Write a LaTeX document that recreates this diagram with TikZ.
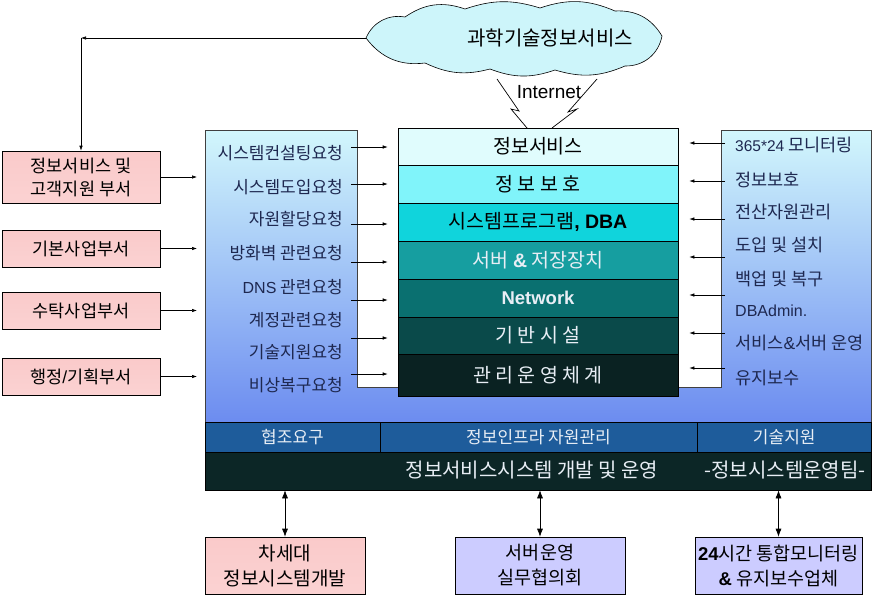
\documentclass[tikz,border=0pt]{standalone}
\usepackage{fontspec}
\setmainfont{Noto Sans CJK KR}
\newfontfamily\lat{Liberation Sans}
\usetikzlibrary{arrows.meta}
\definecolor{cloudfill}{RGB}{205,245,250}
\definecolor{pinkbox}{RGB}{250,202,202}
\definecolor{lavbox}{RGB}{204,204,255}
\definecolor{panTop}{RGB}{210,247,252}
\definecolor{panBot}{RGB}{108,140,240}
\definecolor{Lone}{RGB}{224,252,253}
\definecolor{Ltwo}{RGB}{128,244,250}
\definecolor{Lthree}{RGB}{16,212,220}
\definecolor{Lfour}{RGB}{22,158,160}
\definecolor{Lfive}{RGB}{10,112,112}
\definecolor{Lsix}{RGB}{10,74,74}
\definecolor{Lseven}{RGB}{10,34,34}
\definecolor{bandA}{RGB}{30,92,155}
\definecolor{bandB}{RGB}{12,38,38}
\definecolor{labtxt}{RGB}{30,40,80}
\definecolor{lighttxt}{RGB}{232,238,245}
\tikzset{
  arr/.style={-{Latex[length=5pt,width=3.5pt]}, line width=0.6pt},
  dbl/.style={{Latex[length=8pt,width=6pt]}-{Latex[length=8pt,width=6pt]}, line width=0.6pt},
  layer/.style={draw=black, line width=0.6pt, minimum width=280pt, inner sep=0pt, font=\fontsize{19.5}{22}\selectfont},
  leftlab/.style={anchor=east, text=labtxt, inner sep=0pt, font=\fontsize{17}{20}\selectfont},
  rightlab/.style={anchor=west, text=labtxt, inner sep=0pt, font=\fontsize{17.5}{20}\selectfont},
  pinkb/.style={draw=black, line width=0.6pt, top color=pinkbox, bottom color=pinkbox!85!white, inner sep=0pt, align=center, font=\fontsize{17.5}{23}\selectfont},
  lavb/.style={draw=black, line width=0.6pt, fill=lavbox, inner sep=0pt, align=center, font=\fontsize{18.5}{25}\selectfont},
  bandcell/.style={draw=black, line width=0.6pt, fill=bandA, text=lighttxt, inner sep=0pt, font=\fontsize{17}{19}\selectfont},
}
\begin{document}
\begin{tikzpicture}[x=1pt,y=-1pt]
\useasboundingbox (0,0) rectangle (872,595);
\fill[white] (0,0) rectangle (872,595);

% cloud
\coordinate (cloudw) at (366,38);
\draw[line width=0.6pt, fill=cloudfill]
  (cloudw) to[bend left=38] (405,17) to[bend left=27] (465,9) to[bend left=18] (540,8)
  to[bend left=21] (615,11) to[bend left=31] (662,36) to[bend left=40] (625,66)
  to[bend left=20] (555,70) to[bend left=20] (490,69) to[bend left=20] (425,63)
  to[bend left=30] (cloudw) -- cycle;
\node[font=\fontsize{20}{22}\selectfont, inner sep=0pt] (cloud) at (550,38) {과학기술정보서비스};

% panel
\coordinate (pan) at (205,130);
\shade[top color=panTop, bottom color=panBot, draw=black!75, line width=0.6pt]
  (205,130) -- (357,130) -- (357,387) -- (721,387) -- (721,130) -- (871.5,130) -- (871.5,422) -- (205,422) -- cycle;

% stack
\node[layer, fill=Lone, minimum height=37pt] (s1) at (538,146.5) {정보서비스};
\node[layer, fill=Ltwo, minimum height=38pt] (s2) at (538,184) {정 보 보 호};
\node[layer, fill=Lthree, minimum height=38pt] (s3) at (538,222) {시스템프로그램{\lat\bfseries , DBA}};
\node[layer, fill=Lfour, text=lighttxt, minimum height=38pt] (s4) at (538,260) {서버 {\lat\bfseries \&} 저장장치};
\node[layer, fill=Lfive, text=lighttxt, minimum height=38pt] (s5) at (538,298) {\lat\bfseries\fontsize{18.5}{21}\selectfont Network};
\node[layer, fill=Lsix, text=lighttxt, minimum height=37pt] (s6) at (538,335.5) {기 반 시 설};
\node[layer, fill=Lseven, text=lighttxt, minimum height=42pt] (s7) at (538,375) {관 리 운 영 체 계};

% lightning / internet
\coordinate (la) at (497,79); \coordinate (lb) at (519,111); \coordinate (lc) at (511,109); \coordinate (ld) at (527,128);
\coordinate (ra) at (597,79); \coordinate (rb) at (568,112); \coordinate (rc) at (577,109); \coordinate (rd) at (552,128);
\draw[line width=0.7pt] (la) -- (lb) -- (lc) -- (ld);
\draw[line width=0.7pt] (ra) -- (rb) -- (rc) -- (rd);
\node[font=\lat\fontsize{19}{21}\selectfont, inner sep=0pt] (inet) at (549,92) {Internet};

% left labels
\node[leftlab] (l1) at (343,153) {시스템컨설팅요청};
\node[leftlab] (l2) at (343,187) {시스템도입요청};
\node[leftlab] (l3) at (343,219) {자원할당요청};
\node[leftlab] (l4) at (343,253) {방화벽 관련요청};
\node[leftlab] (l5) at (343,287) {{\lat\fontsize{16}{19}\selectfont DNS} 관련요청};
\node[leftlab] (l6) at (343,320) {계정관련요청};
\node[leftlab] (l7) at (343,352) {기술지원요청};
\node[leftlab] (l8) at (343,385) {비상복구요청};
\foreach \i/\y in {1/147,2/184,3/224,4/262,5/300,6/338,7/374}{
  \coordinate (lq\i) at (351,\y);
  \draw[arr, shorten >=10pt] (lq\i) -- (lq\i -| s1.west);
}

% right labels
\node[rightlab] (r1) at (735,145) {{\lat\fontsize{15.5}{19}\selectfont 365*24} 모니터링};
\node[rightlab] (r2) at (735,180) {정보보호};
\node[rightlab] (r3) at (735,212) {전산자원관리};
\node[rightlab] (r4) at (735,245) {도입 및 설치};
\node[rightlab] (r5) at (735,279) {백업 및 복구};
\node[rightlab] (r6) at (735,311) {\lat\fontsize{16}{19}\selectfont DBAdmin.};
\node[rightlab] (r7) at (735,343) {서비스{\lat\&}서버 운영};
\node[rightlab] (r8) at (735,378) {유지보수};
\foreach \i/\y in {1/143,2/181,3/219,4/257,5/295,6/333,7/368}{
  \coordinate (rq\i) at (725,\y);
  \draw[arr, shorten >=11pt] (rq\i) -- (rq\i -| s1.east);
}

% left boxes
\node[pinkb, minimum width=158pt, minimum height=52pt] (b1) at (81,177) {정보서비스 및\\고객지원 부서};
\node[pinkb, minimum width=158pt, minimum height=37pt] (b2) at (81,248.5) {기본사업부서};
\node[pinkb, minimum width=158pt, minimum height=37pt] (b3) at (81,310.5) {수탁사업부서};
\node[pinkb, minimum width=158pt, minimum height=37pt] (b4) at (81,376.5) {행정{\lat/}기획부서};
\foreach \b in {b1,b2,b3,b4}{
  \draw[arr, shorten >=8pt] (\b.east) -- (\b.east -| pan);
}
\coordinate (corner) at (b1.north |- cloudw);
\draw[arr] (cloudw) -- (corner);
\draw[arr] (corner) -- (b1.north);

% bottom band
\node[bandcell, minimum width=175pt, minimum height=30pt] (c1) at (292.5,437) {협조요구};
\node[bandcell, minimum width=317pt, minimum height=30pt] (c2) at (538.5,437) {정보인프라 자원관리};
\node[bandcell, minimum width=174.5pt, minimum height=30pt] (c3) at (784.25,437) {기술지원};
\node[draw=black, line width=0.6pt, fill=bandB, minimum width=666.5pt, minimum height=38pt, inner sep=0pt] (band) at (538.25,471) {};
\node[text=lighttxt, font=\fontsize{20}{22}\selectfont, inner sep=0pt] (bt1) at (532,470) {정보서비스시스템 개발 및 운영};
\node[text=lighttxt, font=\fontsize{20}{22}\selectfont, inner sep=0pt] (bt2) at (785,470) {-정보시스템운영팀-};

% bottom boxes
\node[pinkb, font=\fontsize{19}{25}\selectfont, minimum width=160pt, minimum height=57pt] (d1) at (285,565.5) {차세대\\정보시스템개발};
\node[lavb, minimum width=170pt, minimum height=57pt] (d2) at (540,565.5) {서버운영\\실무협의회};
\node[lavb, minimum width=167pt, minimum height=57pt] (d3) at (778.5,565.5) {{\lat\bfseries 24}시간 통합모니터링\\{\lat\bfseries \&} 유지보수업체};
\foreach \d in {d1,d2,d3}{
  \draw[dbl] (\d.north) -- (\d.north |- band.south);
}
\end{tikzpicture}
\end{document}
